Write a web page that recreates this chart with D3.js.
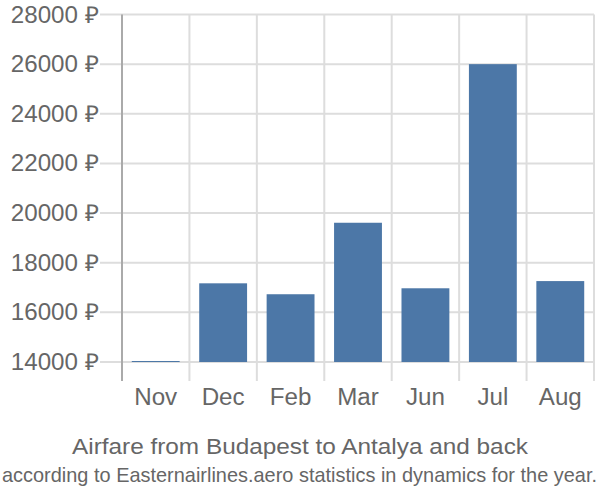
<!DOCTYPE html>
<html><head><meta charset="utf-8">
<script src="https://cdn.jsdelivr.net/npm/d3@7"></script>
<style>body{margin:0;background:#fff}svg{display:block}</style>
</head><body>
<script>
const months = ["Nov","Dec","Feb","Mar","Jun","Jul","Aug"];
const prices = [14040,17170,16730,19610,16970,26000,17260];
const yTicks = [14000,16000,18000,20000,22000,24000,26000,28000];
const titleText = "Airfare from Budapest to Antalya and back";
const subtitleText = "according to Easternairlines.aero statistics in dynamics for the year.";

const W=600,H=500;
const mLeft=122,mRight=594,mTop=14.5,mBottom=362,axisBottom=381;
const svg=d3.select("body").append("svg").attr("width",W).attr("height",H);
const font="'Liberation Sans', Arial, sans-serif";
const x=d3.scaleBand().domain(months).range([mLeft,mRight]).padding(0);
const y=d3.scaleLinear().domain([14000,28000]).range([mBottom,mTop]);

// horizontal grid
svg.append("g").selectAll("line").data(yTicks).join("line")
 .attr("x1",100).attr("x2",mRight).attr("y1",d=>y(d)).attr("y2",d=>y(d))
 .attr("stroke","#dddddd").attr("stroke-width",2);
// vertical grid at band boundaries
const bounds=months.map(m=>x(m)).concat([mRight]);
svg.append("g").selectAll("line").data(bounds.slice(1)).join("line")
 .attr("x1",d=>d).attr("x2",d=>d).attr("y1",mTop).attr("y2",axisBottom)
 .attr("stroke","#dddddd").attr("stroke-width",2);
// y axis line
svg.append("line").attr("x1",mLeft).attr("x2",mLeft).attr("y1",mTop).attr("y2",axisBottom)
 .attr("stroke","#aaaaaa").attr("stroke-width",2);

// bars
const bw=x.bandwidth(), inner=bw*0.71, off=(bw-inner)/2;
svg.append("g").selectAll("rect").data(months).join("rect")
 .attr("x",(d)=>x(d)+off).attr("width",inner)
 .attr("y",(d,i)=>y(prices[i])).attr("height",(d,i)=>y(14000)-y(prices[i]))
 .attr("fill","#4c77a7");

// y labels
svg.append("g").selectAll("text").data(yTicks).join("text")
 .attr("transform",d=>`translate(99,${y(d)}) scale(1.05,1)`).attr("dy","0.35em").attr("text-anchor","end")
 .attr("font-family",font).attr("font-size",23).attr("fill","#666")
 .text(d=>d+" ₽");
// x labels
svg.append("g").selectAll("text").data(months).join("text")
 .attr("transform",d=>`translate(${x(d)+bw/2},405) scale(1.05,1)`).attr("text-anchor","middle")
 .attr("font-family",font).attr("font-size",23).attr("fill","#666")
 .text(d=>d);

svg.append("text").attr("x",72).attr("y",454)
 .attr("textLength",456).attr("lengthAdjust","spacingAndGlyphs")
 .attr("font-family",font).attr("font-size",22).attr("fill","#666").text(titleText);
svg.append("text").attr("transform","translate(2,482) scale(1,1.1)")
 .attr("textLength",595).attr("lengthAdjust","spacingAndGlyphs")
 .attr("font-family",font).attr("font-size",19).attr("fill","#666").text(subtitleText);
</script>
</body></html>
